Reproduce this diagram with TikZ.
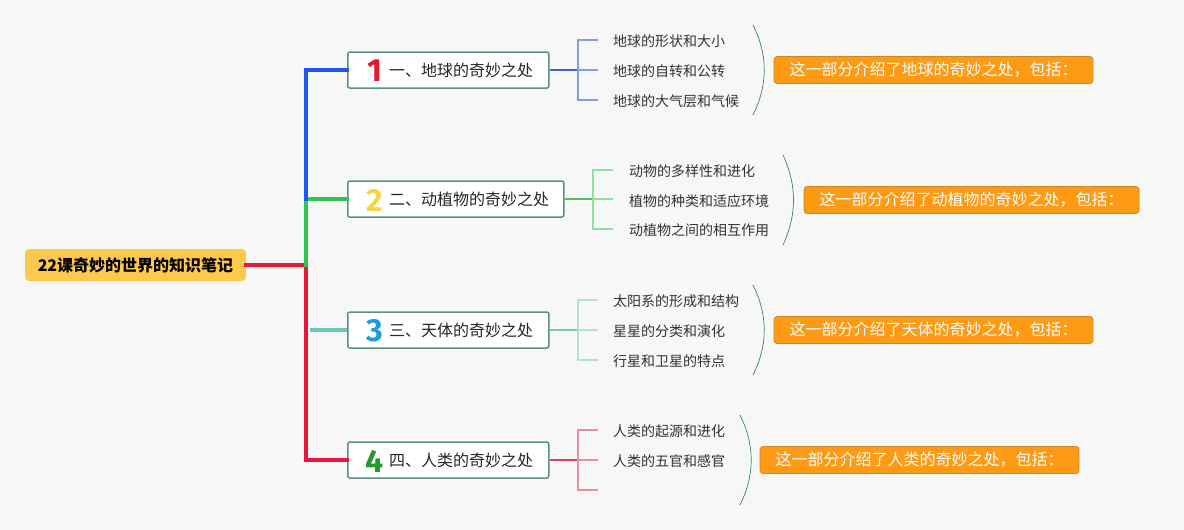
\documentclass[tikz,border=0pt]{standalone}
\usepackage{fontspec}
\setmainfont{Noto Sans CJK SC}
\newfontfamily\numf{Fira Sans}
\definecolor{bgc}{HTML}{F7F7F7}
\definecolor{rootc}{HTML}{FFC94D}
\definecolor{bordc}{HTML}{5B8F80}
\definecolor{cblue}{HTML}{1F55F0}
\definecolor{cgreen}{HTML}{2DC653}
\definecolor{cteal}{HTML}{6CC9B8}
\definecolor{cred}{HTML}{E8173E}
\definecolor{lblue}{HTML}{7E9FE3}
\definecolor{dblue}{HTML}{3A66CC}
\definecolor{lgreen}{HTML}{93DFA0}
\definecolor{dgreen}{HTML}{4CC466}
\definecolor{lteal}{HTML}{AEE2D7}
\definecolor{dteal}{HTML}{7CC7B9}
\definecolor{lred}{HTML}{EC8E9F}
\definecolor{dred}{HTML}{D8405E}
\definecolor{arcc}{HTML}{3F7F70}
\definecolor{orf}{HTML}{FF9A14}
\definecolor{orb}{HTML}{C98A2E}
\definecolor{n1c}{HTML}{E0192E}
\definecolor{n2c}{HTML}{F5D547}
\definecolor{n3c}{HTML}{1E9BE0}
\definecolor{n4c}{HTML}{259A2A}
\tikzset{
  rootbox/.style={fill=rootc, rounded corners=4pt, minimum width=221pt, minimum height=32pt, inner sep=0pt, font=\fontsize{16}{18}\selectfont\bfseries},
  mainbox/.style={draw=bordc, line width=1.5pt, fill=white, rounded corners=2pt, minimum height=36pt, inner sep=0pt, anchor=west},
  maintext/.style={anchor=west, inner sep=0pt, font=\fontsize{16}{18}\selectfont, text=black!85},
  numtext/.style={inner sep=0pt, font=\fontsize{32}{32}\selectfont\numf\bfseries},
  subtext/.style={anchor=west, inner sep=0pt, font=\fontsize{14}{16}\selectfont, text=black!80},
  orbox/.style={fill=orf, draw=orb, line width=0.7pt, rounded corners=3pt, minimum height=27pt, inner sep=0pt, text=white, font=\fontsize{16}{18}\selectfont},
  trunk/.style={line width=4pt, line join=miter, line cap=rect},
  stem/.style={line width=2pt},
  tick/.style={line width=1.2pt},
  arcline/.style={draw=arcc, line width=0.7pt},
}
\begin{document}
\begin{tikzpicture}[x=1pt,y=-1pt]
\fill[bgc] (0,0) rectangle (1184,530);
\useasboundingbox (0,0) rectangle (1184,530);

% root
\node[rootbox] (root) at (135.5,265) {22课奇妙的世界的知识笔记};

% main boxes
\node[mainbox, minimum width=201pt] (b1) at (347,70) {};
\node[mainbox, minimum width=216pt] (b2) at (347,199) {};
\node[mainbox, minimum width=201pt] (b3) at (347,330) {};
\node[mainbox, minimum width=201pt] (b4) at (347,460) {};

\node[numtext, text=n1c] (n1) at (374.5,71) {1};
\node[numtext, text=n2c] (n2) at (374.5,200) {2};
\node[numtext, text=n3c] (n3) at (374.5,331) {3};
\node[numtext, text=n4c] (n4) at (374.5,461) {4};

\node[maintext] (t1) at (389,70) {一、地球的奇妙之处};
\node[maintext] (t2) at (389,199) {二、动植物的奇妙之处};
\node[maintext] (t3) at (389,330) {三、天体的奇妙之处};
\node[maintext] (t4) at (389,460) {四、人类的奇妙之处};

% trunk
\coordinate (hub) at (306,265);
\coordinate (j2) at (306,199);
\coordinate (j3) at (310,330);
\draw[trunk, cred] (root.east) -- (hub) -- (hub |- b4.west) -- (b4.west);
\draw[trunk, cgreen] (hub) -- (j2) -- (b2.west);
\draw[trunk, cblue] (j2) -- (j2 |- b1.west) -- (b1.west);
\draw[trunk, cteal, line cap=butt] (j3) -- (b3.west);

% sub texts
\node[subtext] (s11) at (613,41) {地球的形状和大小};
\node[subtext] (s12) at (613,71) {地球的自转和公转};
\node[subtext] (s13) at (613,101) {地球的大气层和气候};
\node[subtext] (s21) at (629,171) {动物的多样性和进化};
\node[subtext] (s22) at (629,201) {植物的种类和适应环境};
\node[subtext] (s23) at (629,230) {动植物之间的相互作用};
\node[subtext] (s31) at (613,301) {太阳系的形成和结构};
\node[subtext] (s32) at (613,331) {星星的分类和演化};
\node[subtext] (s33) at (613,361) {行星和卫星的特点};
\node[subtext] (s41) at (613,431) {人类的起源和进化};
\node[subtext] (s42) at (613,461) {人类的五官和感官};
\coordinate (s43) at (613,490);

% brackets
\coordinate (k1) at (578,70);
\draw[stem, dblue] (b1.east) -- (k1);
\draw[tick, lblue] (598,40) -- (578,40) -- (578,100) -- (598,100);
\draw[tick, lblue] (k1) -- (598,70);

\coordinate (k2) at (593,199);
\draw[stem, dgreen] (b2.east) -- (k2);
\draw[tick, lgreen] (613,170) -- (593,170) -- (593,229) -- (613,229);
\draw[tick, lgreen] (k2) -- (613,199);

\coordinate (k3) at (578,330);
\draw[stem, dteal] (b3.east) -- (k3);
\draw[tick, lteal] (598,300) -- (578,300) -- (578,360) -- (598,360);
\draw[tick, lteal] (k3) -- (598,330);

\coordinate (k4) at (578,460);
\draw[stem, dred] (b4.east) -- (k4);
\draw[tick, lred] (598,430) -- (578,430) -- (578,490) -- (598,490);
\draw[tick, lred] (k4) -- (598,460);

% arcs
\draw[arcline] (753,25) .. controls (768,55) and (768,85) .. (753,115);
\draw[arcline] (783,155) .. controls (797,185) and (797,215) .. (783,245);
\draw[arcline] (753,285) .. controls (768,315) and (768,345) .. (753,375);
\draw[arcline] (740,415) .. controls (755,445) and (755,475) .. (740,505);

% summaries
\node[orbox, minimum width=319pt] (o1) at (933.5,70) {这一部分介绍了地球的奇妙之处，包括：};
\node[orbox, minimum width=335pt] (o2) at (971.5,200) {这一部分介绍了动植物的奇妙之处，包括：};
\node[orbox, minimum width=319pt] (o3) at (933.5,330) {这一部分介绍了天体的奇妙之处，包括：};
\node[orbox, minimum width=319pt] (o4) at (919.5,460) {这一部分介绍了人类的奇妙之处，包括：};
\end{tikzpicture}
\end{document}
